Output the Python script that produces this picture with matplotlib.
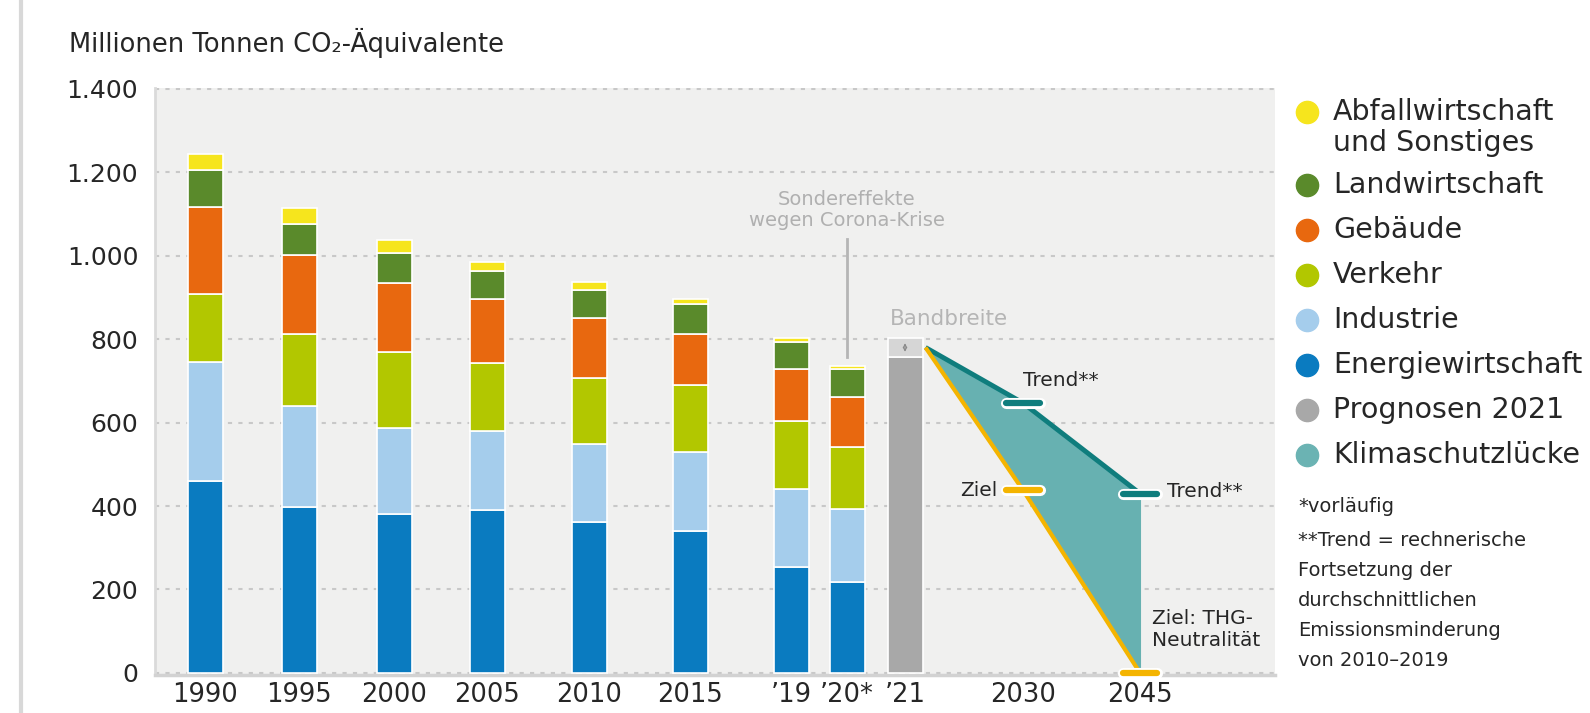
import matplotlib.pyplot as plt
import matplotlib.patheffects as pe
from matplotlib.lines import Line2D
from matplotlib.ticker import FuncFormatter

plt.rcParams['font.family'] = ['DejaVu Sans']

# data (Mio. t CO2-Äquivalente)
years = ['1990', '1995', '2000', '2005', '2010', '2015', '\u201919', '\u201920*']
energie = [460, 398, 381, 391, 362, 340, 254, 218]
industrie = [285, 241, 205, 190, 187, 190, 187, 176]
verkehr = [163, 174, 183, 162, 158, 160, 162, 148]
gebaeude = [209, 189, 166, 154, 143, 122, 125, 120]
landwirtschaft = [89, 74, 72, 67, 68, 73, 65, 67]
abfall = [38, 39, 31, 21, 18, 12, 9, 7]

prognose_2021 = 757
band_2021 = [757, 803]
future_labels = ['\u201921', '2030', '2045']
trend = [780, 647, 430]   # 2021, 2030, 2045
ziel = [780, 438, 0]

series = [
    ('Energiewirtschaft', energie, '#0a7bc0'),
    ('Industrie', industrie, '#a5cdec'),
    ('Verkehr', verkehr, '#b2c700'),
    ('Gebäude', gebaeude, '#e8680f'),
    ('Landwirtschaft', landwirtschaft, '#5a8a2b'),
    ('Abfallwirtschaft\nund Sonstiges', abfall, '#f6e51d'),
]

# layout
W, H = 1590, 713
slot_x = [205, 299, 394, 487, 589, 690, 791, 847, 905, 1023, 1140]
bar_w = 35
txt = '#262626'
panel = '#f0f0ef'

fig = plt.figure(figsize=(W / 100, H / 100), dpi=100)
fig.patch.set_facecolor('white')
ax = fig.add_axes([155 / W, 1 - 675 / H, 1120 / W, (675 - 88) / H])
ax.set_facecolor(panel)
ax.set_xlim(155, 1275)
ax.set_ylim(-5, 1402)

# stacked bars
bottom = [0] * len(years)
for name, vals, col in series:
    ax.bar(slot_x[:len(years)], vals, bar_w, bottom=bottom, color=col,
           edgecolor='white', linewidth=1.2, zorder=3)
    bottom = [b + v for b, v in zip(bottom, vals)]

# 2021 forecast + band
x21 = slot_x[len(years)]
ax.bar(x21, prognose_2021, bar_w, color='#a8a8a8', edgecolor='white', linewidth=1.2, zorder=3)
ax.bar(x21, band_2021[1] - band_2021[0], bar_w, bottom=band_2021[0], color='#d6d6d6',
       edgecolor='white', linewidth=1.2, zorder=3)
ax.annotate('', xy=(x21, band_2021[1] - 6), xytext=(x21, band_2021[0] + 6),
            arrowprops=dict(arrowstyle='<->', color='#888888', lw=0.8,
                            mutation_scale=6), zorder=4)

# Klimaschutzlücke
fx = [x21 + bar_w / 2 + 3, slot_x[-2], slot_x[-1]]
ax.fill(fx + fx[::-1], trend + ziel[::-1], color='#67b1b1', lw=0, zorder=2)
ax.plot(fx, trend, color='#0f7d7d', lw=3.5, solid_capstyle='butt', zorder=3)
ax.plot([fx[-1], fx[-1]], [trend[-1], ziel[-1]], color='#67b1b1', lw=1.5, zorder=3)
ax.plot(fx, ziel, color='#f4b400', lw=3, solid_capstyle='butt', zorder=3)

white_edge = [pe.Stroke(linewidth=8, foreground='white'), pe.Normal()]
for xc, v, col in [(slot_x[-2], trend[1], '#0f7d7d'), (slot_x[-1], trend[2], '#0f7d7d'),
                   (slot_x[-2], ziel[1], '#f4b400'), (slot_x[-1], ziel[2], '#f4b400')]:
    ax.plot([xc - 17, xc + 17], [v, v], color=col, lw=4.5, solid_capstyle='round',
            path_effects=white_edge, zorder=5, clip_on=False)

# annotations
ax.text(slot_x[-2], trend[1] + 55, 'Trend**', fontsize=14.5, color=txt,
        ha='left', va='center', zorder=6)
ax.text(slot_x[-2] - 26, ziel[1], 'Ziel', fontsize=14.5, color=txt,
        ha='right', va='center', zorder=6)
ax.text(slot_x[-1] + 27, trend[2] + 6, 'Trend**', fontsize=14.5, color=txt,
        ha='left', va='center', zorder=6)
ax.text(slot_x[-1] + 12, 103, 'Ziel: THG-\nNeutralität', fontsize=14.5, color=txt,
        ha='left', va='center', linespacing=1.2, zorder=6)

x20 = slot_x[len(years) - 1]
ax.plot([x20, x20], [757, 1040], color='#b5b5b5', lw=2, zorder=2)
ax.text(x20, 1110, 'Sondereffekte\nwegen Corona-Krise', fontsize=14, color='#b0b0b0',
        ha='center', va='center', linespacing=1.1)
ax.text(x21 - bar_w / 2 + 2, 848, 'Bandbreite', fontsize=15.5, color='#b5b5b5',
        ha='left', va='center')

# axes styling
ax.set_yticks(range(0, 1401, 200))
ax.yaxis.set_major_formatter(FuncFormatter(lambda v, p: f'{v:,.0f}'.replace(',', '.')))
ax.yaxis.grid(True, linestyle=(0, (2, 3)), color='#c8c8c8', linewidth=1.5)
ax.set_axisbelow(True)
ax.set_xticks(slot_x)
ax.set_xticklabels(years + future_labels)
ax.tick_params(axis='both', length=0, labelcolor=txt)
ax.tick_params(axis='y', pad=12, labelsize=18)
ax.tick_params(axis='x', pad=5, labelsize=18.5)
for s in ['top', 'right']:
    ax.spines[s].set_visible(False)
ax.spines['left'].set_color('#dadada')
ax.spines['left'].set_linewidth(2)
ax.spines['bottom'].set_color('#d2d2d2')
ax.spines['bottom'].set_linewidth(2.5)

# title + left rule
fig.text(69 / W, 1 - 43 / H, 'Millionen Tonnen CO\u2082-Äquivalente', fontsize=18.5,
         color=txt, va='center', ha='left')
fig.add_artist(Line2D([21 / W, 21 / W], [0, 1], color='#d8d8d8', lw=3))

# legend
legend_items = [(name, col) for name, _, col in series[::-1]]
legend_items += [('Prognosen 2021', '#a8a8a8'), ('Klimaschutzlücke', '#6bb3b3')]
y = 112
for name, col in legend_items:
    fig.add_artist(Line2D([1307 / W], [1 - y / H], marker='o', markersize=16,
                          color=col, lw=0))
    for k, line in enumerate(name.split('\n')):
        fig.text(1333 / W, 1 - (y + 31 * k) / H, line, fontsize=20.5, color=txt,
                 va='center', ha='left')
    y += 45 + 28 * name.count('\n')

notes = ['*vorläufig', '**Trend = rechnerische', 'Fortsetzung der',
         'durchschnittlichen', 'Emissionsminderung', 'von 2010\u20132019']
note_y = [507, 540, 570, 600, 630, 660]
for line, ny in zip(notes, note_y):
    fig.text(1298 / W, 1 - ny / H, line, fontsize=14, color=txt,
             va='center', ha='left')

fig.savefig('out.png', dpi=100)
